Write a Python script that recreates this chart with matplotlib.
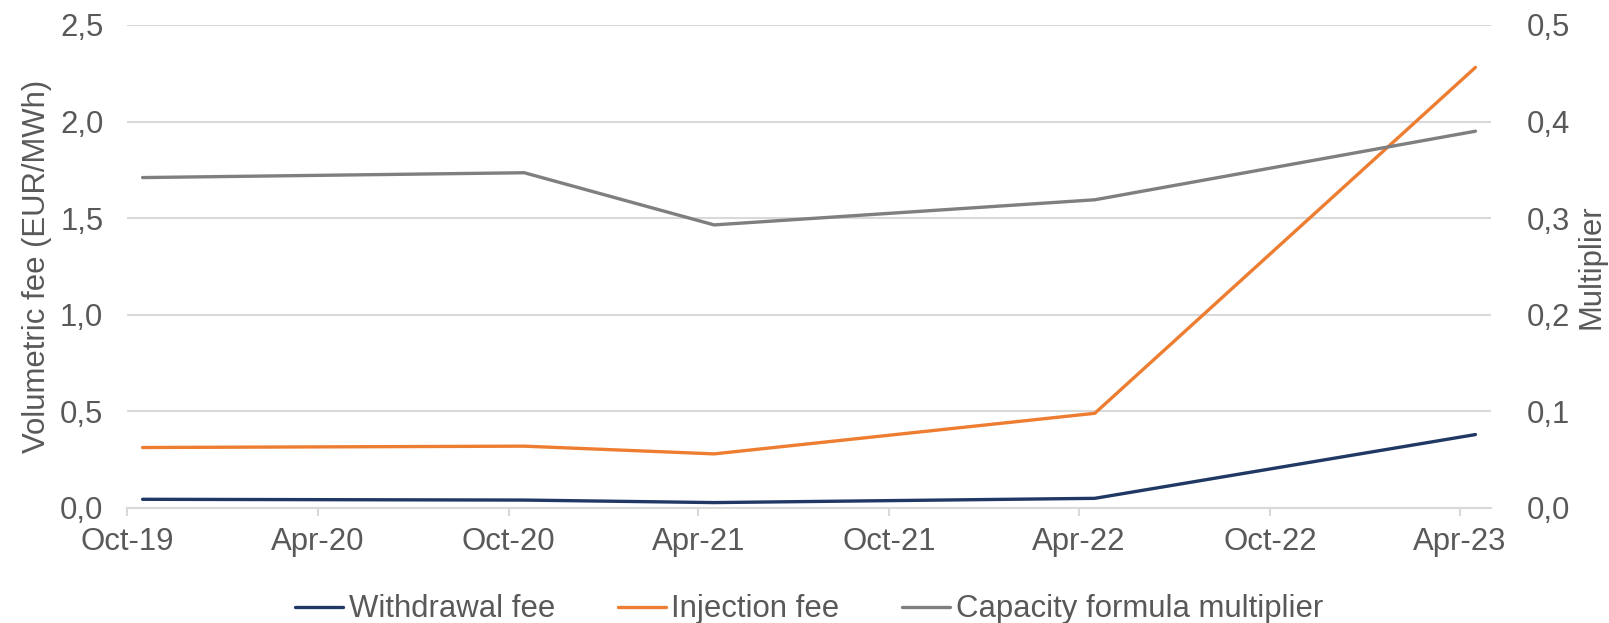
import matplotlib

matplotlib.use("Agg")
import matplotlib.dates as mdates
import matplotlib.pyplot as plt
import numpy as np
from matplotlib.ticker import FuncFormatter, MultipleLocator

# Observation dates (mid-month, as placed on an Excel date axis)
dates = np.array(
    ["2019-10-16", "2020-10-16", "2021-04-16", "2022-04-16", "2023-04-16"],
    dtype="datetime64[D]",
)
withdrawal_fee = [0.045, 0.041, 0.028, 0.05, 0.38]
injection_fee = [0.313, 0.32, 0.28, 0.49, 2.28]
capacity_multiplier = [0.342, 0.347, 0.293, 0.319, 0.390]

tick_dates = np.arange("2019-10", "2023-05", 6, dtype="datetime64[M]").astype(
    "datetime64[D]"
)
tick_labels = ["Oct-19", "Apr-20", "Oct-20", "Apr-21", "Oct-21", "Apr-22", "Oct-22", "Apr-23"]

txt = "#595959"
grid = "#d9d9d9"
fs = 22.4
plt.rcParams["font.family"] = ["Liberation Sans", "DejaVu Sans"]


def comma(v, pos):
    return f"{v:.1f}".replace(".", ",")


fig = plt.figure(figsize=(16.09, 6.23), dpi=100)
ax = fig.add_axes([0.0789, 0.1846, 0.8478, 0.7754])
ax2 = ax.twinx()

l1, = ax.plot(dates, withdrawal_fee, color="#203864", lw=2.4, label="Withdrawal fee",
              solid_capstyle="round")
l2, = ax.plot(dates, injection_fee, color="#ed7d31", lw=2.4, label="Injection fee",
              solid_capstyle="round")
l3, = ax2.plot(dates, capacity_multiplier, color="#7f7f7f", lw=2.4,
               label="Capacity formula multiplier", solid_capstyle="round")

ax.set_xlim(np.datetime64("2019-10-01"), np.datetime64("2023-05-01"))
ax.set_ylim(0, 2.5)
ax2.set_ylim(0, 0.5)
ax.yaxis.set_major_locator(MultipleLocator(0.5))
ax2.yaxis.set_major_locator(MultipleLocator(0.1))
ax.yaxis.set_major_formatter(FuncFormatter(comma))
ax2.yaxis.set_major_formatter(FuncFormatter(comma))

ax.set_xticks(mdates.date2num(tick_dates))
ax.set_xticklabels(tick_labels)

ax.grid(axis="y", color=grid, lw=1.5)
ax.set_axisbelow(True)
for a in (ax, ax2):
    for s in ("top", "left", "right", "bottom"):
        a.spines[s].set_visible(False)
ax.spines["bottom"].set_visible(True)
ax.spines["bottom"].set_color(grid)
ax.spines["bottom"].set_linewidth(1.5)

ax.tick_params(axis="x", colors=grid, length=6, width=1.5, pad=8, labelsize=fs,
               labelcolor=txt)
ax.tick_params(axis="y", length=0, pad=17, labelsize=fs, labelcolor=txt)
ax2.tick_params(axis="y", length=0, pad=26, labelsize=fs, labelcolor=txt)

ax.set_ylabel("Volumetric fee (EUR/MWh)", fontsize=fs, color=txt, labelpad=6)
ax2.set_ylabel("Multiplier", fontsize=fs, color=txt, labelpad=4)

leg = ax.legend(handles=[l1, l2, l3], loc="center", bbox_to_anchor=(0.5, -0.21),
                ncol=3, frameon=False, fontsize=fs, handlelength=1.55,
                handletextpad=0.18, columnspacing=2.0, labelcolor=txt)

fig.savefig("out.png", dpi=100)
